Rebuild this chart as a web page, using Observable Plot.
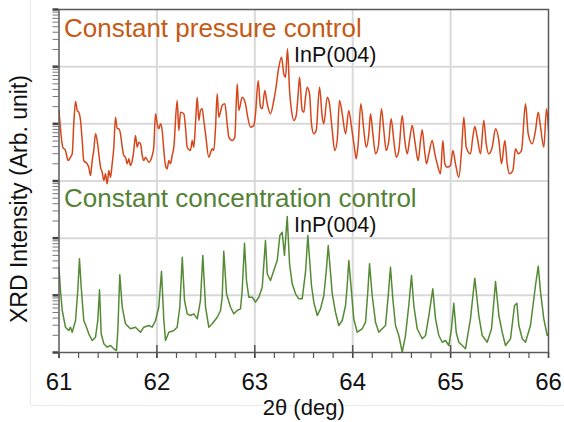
<!DOCTYPE html>
<html><head><meta charset="utf-8">
<script src="https://cdn.jsdelivr.net/npm/d3@7"></script>
<script src="https://cdn.jsdelivr.net/npm/@observablehq/plot@0.6"></script>
<style>
html,body{margin:0;padding:0;background:#fff;}
#chart{width:564px;height:422px;}
</style></head><body><div id="chart"></div>
<script>
// Series 1: constant pressure control (2θ in deg, log10 of intensity, arb. units)
const pressureTwoTheta = [61.000,61.039,61.066,61.094,61.117,61.135,61.151,61.169,61.186,61.202,61.220,61.237,61.253,61.288,61.304,61.322,61.339,61.355,61.373,61.390,61.407,61.424,61.441,61.458,61.475,61.492,61.509,61.526,61.543,61.560,61.577,61.595,61.611,61.628,61.646,61.662,61.679,61.697,61.713,61.730,61.748,61.764,61.781,61.799,61.815,61.833,61.850,61.866,61.884,61.917,61.952,61.968,61.986,62.003,62.019,62.037,62.054,62.071,62.088,62.105,62.122,62.139,62.156,62.173,62.207,62.224,62.241,62.275,62.292,62.310,62.343,62.361,62.377,62.394,62.412,62.428,62.445,62.463,62.479,62.497,62.530,62.565,62.581,62.599,62.616,62.632,62.667,62.694,62.718,62.735,62.769,62.796,62.820,62.837,62.871,62.905,62.922,62.956,62.990,63.007,63.035,63.058,63.076,63.102,63.127,63.160,63.194,63.212,63.245,63.273,63.296,63.314,63.334,63.355,63.375,63.398,63.423,63.443,63.457,63.484,63.501,63.518,63.535,63.559,63.579,63.603,63.627,63.661,63.689,63.705,63.740,63.763,63.791,63.817,63.842,63.865,63.893,63.927,63.960,63.988,64.022,64.036,64.056,64.083,64.114,64.138,64.165,64.182,64.206,64.233,64.261,64.294,64.318,64.342,64.369,64.393,64.420,64.445,64.471,64.506,64.532,64.557,64.580,64.608,64.634,64.659,64.669,64.693,64.710,64.734,64.754,64.778,64.812,64.839,64.863,64.897,64.921,64.941,64.965,64.999,65.023,65.050,65.084,65.112,65.135,65.160,65.203,65.227,65.247,65.272,65.306,65.339,65.364,65.390,65.425,65.459,65.493,65.520,65.554,65.578,65.602,65.636,65.663,65.691,65.724,65.765,65.793,65.834,65.867,65.895,65.919,65.952,65.980,66.000];
const pressureLogI = [4.233,3.591,3.533,3.358,3.416,3.476,4.000,4.390,4.233,4.203,4.058,3.708,3.358,3.301,3.241,3.096,3.358,3.533,3.825,3.708,3.476,3.241,3.154,3.009,3.126,2.951,3.184,3.066,3.301,3.591,4.116,3.913,3.913,3.825,3.591,3.446,3.416,3.301,3.388,3.271,3.358,3.533,3.796,3.591,3.679,3.651,3.446,3.358,3.416,3.329,3.446,3.591,4.175,4.000,3.913,4.000,3.883,3.533,3.271,3.213,3.358,3.301,3.446,3.591,4.408,3.883,4.203,4.175,3.941,3.591,3.533,3.708,3.591,4.000,4.466,4.058,4.233,4.263,4.058,3.825,3.416,3.563,3.533,3.941,4.525,4.116,4.321,4.350,4.000,3.766,3.708,3.766,4.700,4.233,4.466,4.350,4.175,3.941,3.971,4.175,4.758,4.291,4.263,4.583,4.350,4.175,4.408,4.583,4.990,5.165,4.875,4.816,5.312,4.583,4.233,4.058,4.146,4.525,4.816,4.233,4.203,4.466,4.641,4.525,4.000,3.825,3.883,4.641,4.116,4.000,4.466,4.350,3.883,3.533,3.708,4.408,4.175,3.825,4.233,3.941,3.533,3.388,3.651,4.350,3.883,3.591,3.825,4.175,3.825,3.476,3.591,4.263,3.883,3.533,3.708,4.088,3.708,3.416,3.533,4.146,3.708,3.476,3.708,3.971,3.708,3.416,3.358,3.708,3.895,3.533,3.301,3.476,3.708,3.476,3.301,3.126,3.708,3.301,3.241,3.271,3.533,3.301,3.066,3.533,4.116,3.591,3.476,3.766,3.953,3.766,3.476,4.058,3.651,3.476,3.591,3.913,3.708,3.301,3.708,3.301,3.126,3.184,3.563,3.476,3.533,4.350,3.825,3.651,3.883,4.203,3.941,3.591,4.263,3.883];

// Series 2: constant concentration control
const concTwoTheta = [61.000,61.015,61.033,61.066,61.100,61.117,61.135,61.169,61.192,61.209,61.227,61.253,61.281,61.304,61.339,61.373,61.396,61.414,61.431,61.458,61.492,61.526,61.560,61.587,61.601,61.621,61.646,61.679,61.730,61.781,61.833,61.866,61.917,61.952,61.986,62.019,62.047,62.071,62.088,62.122,62.173,62.207,62.234,62.259,62.282,62.310,62.343,62.377,62.412,62.445,62.469,62.497,62.530,62.565,62.616,62.650,62.667,62.683,62.711,62.752,62.786,62.820,62.854,62.871,62.895,62.915,62.939,62.974,63.007,63.041,63.076,63.109,63.127,63.160,63.194,63.229,63.256,63.280,63.303,63.331,63.355,63.382,63.416,63.450,63.484,63.518,63.542,63.559,63.579,63.603,63.638,63.671,63.705,63.729,63.750,63.773,63.791,63.824,63.858,63.893,63.927,63.944,63.960,63.988,64.011,64.046,64.097,64.131,64.154,64.172,64.199,64.233,64.267,64.301,64.335,64.363,64.386,64.410,64.437,64.471,64.506,64.539,64.573,64.601,64.624,64.659,64.710,64.744,64.778,64.818,64.846,64.880,64.914,64.948,64.982,65.009,65.033,65.057,65.084,65.119,65.152,65.203,65.247,65.288,65.323,65.374,65.418,65.459,65.493,65.527,65.561,65.612,65.653,65.677,65.697,65.732,65.765,65.816,65.867,65.895,65.919,65.952,65.987,66.000];
const concLogI = [1.492,1.085,0.735,0.443,0.385,0.443,0.355,0.560,1.085,1.639,1.142,0.560,0.443,0.327,0.210,0.268,0.560,1.097,0.327,0.152,0.093,0.122,0.065,0.035,0.385,1.359,0.792,0.502,0.415,0.443,0.355,0.443,0.472,0.443,0.560,0.792,1.422,0.560,0.210,0.355,0.385,0.443,0.792,1.667,0.910,0.677,0.647,0.677,0.589,0.910,1.697,0.792,0.443,0.502,0.617,0.735,0.967,1.772,1.027,0.792,0.677,0.735,0.764,1.085,1.912,1.259,0.967,0.967,0.880,0.967,1.142,1.959,1.377,1.259,1.434,1.609,2.047,2.104,1.697,2.379,1.552,1.202,1.027,0.939,0.939,1.405,2.047,1.639,1.172,0.880,0.647,0.764,0.997,1.405,1.872,1.405,1.027,0.705,0.472,0.560,0.822,1.172,1.609,1.055,0.589,0.355,0.415,0.530,1.055,1.552,0.997,0.530,0.355,0.415,0.472,0.997,1.492,0.939,0.472,0.297,0.005,0.297,0.822,1.347,0.822,0.415,0.240,0.297,0.647,1.114,0.589,0.297,0.180,0.210,0.122,0.415,0.862,0.355,0.180,0.122,0.065,0.589,1.300,0.647,0.297,0.180,0.415,1.242,0.647,0.355,0.122,0.240,0.822,0.862,0.472,0.240,0.180,0.472,1.172,1.510,1.055,0.589,0.297,0.327];

// Labels and ticks
const seriesLabels = ["Constant pressure control", "Constant concentration control"];
const peakLabel = "InP(004)";
const xTickValues = [61, 62, 63, 64, 65, 66];
const xInnerTicks = [62, 63, 64, 65];
const yDecades = [1, 10, 100, 1000, 10000, 100000, 1000000];
const xLabel = "2θ (deg)";
const yLabel = "XRD Intensity (Arb. unit)";

const xMinorTicks = d3.range(61, 66.0001, 0.2).map(v => +v.toFixed(1));
const yMinorTicks = yDecades.slice(0, -1).flatMap(d => [2,3,4,5,6,7,8,9].map(m => m * d));
const yGridLines = yDecades.slice(1, -1);

const pressureRows = pressureTwoTheta.map((x, i) => ({x, y: Math.pow(10, pressureLogI[i])}));
const concRows = concTwoTheta.map((x, i) => ({x, y: Math.pow(10, concLogI[i])}));

const font = "'Liberation Sans', Arial, Helvetica, sans-serif";
const chart = Plot.plot({
  width: 564, height: 422,
  marginLeft: 58.5, marginRight: 16, marginTop: 9, marginBottom: 70,
  x: {domain: [61, 66]},
  y: {type: "log", domain: [1, 1e6]},
  style: {fontFamily: font, background: "white", overflow: "visible"},
  marks: [
    Plot.gridX(xInnerTicks, {stroke: "#d9d9d9", strokeOpacity: 1, strokeWidth: 2}),
    Plot.gridY(yGridLines, {stroke: "#d9d9d9", strokeOpacity: 1, strokeWidth: 2}),
    Plot.line(pressureRows, {x: "x", y: "y", stroke: "#d6461a", strokeWidth: 1.5, curve: "monotone-x", clip: true}),
    Plot.line(concRows, {x: "x", y: "y", stroke: "#558a35", strokeWidth: 1.5, clip: true}),
    Plot.axisX(xMinorTicks, {tickSize: 6, stroke: "#555", strokeWidth: 1.2, tickFormat: () => "", label: null}),
    Plot.axisX(xTickValues, {tickSize: 6, tickPadding: 14, fontSize: 24, fill: "#111", stroke: "#444", strokeWidth: 1.5, label: null}),
    Plot.tickX(xInnerTicks, {x: d => d, insetTop: 336, stroke: "#555", strokeWidth: 1.5}),
    Plot.axisY(yMinorTicks, {tickSize: 6, stroke: "#777", strokeWidth: 1, tickFormat: () => "", label: null}),
    Plot.axisY(yDecades, {tickSize: 6, stroke: "#444", strokeWidth: 2.5, tickFormat: () => "", label: null}),
    Plot.frame({stroke: "#595959", strokeWidth: 1.5}),
    Plot.text([seriesLabels[0]], {frameAnchor: "top-left", textAnchor: "start", lineAnchor: "bottom", dx: 5, dy: 27, fontSize: 26, fill: "#c65a14"}),
    Plot.text([seriesLabels[1]], {frameAnchor: "top-left", textAnchor: "start", lineAnchor: "bottom", dx: 5, dy: 197, fontSize: 26, fill: "#548235"}),
    Plot.text([peakLabel], {frameAnchor: "top-left", textAnchor: "start", lineAnchor: "bottom", dx: 235, dy: 52, fontSize: 21.5, fill: "#111"}),
    Plot.text([peakLabel], {frameAnchor: "top-left", textAnchor: "start", lineAnchor: "bottom", dx: 235, dy: 222.5, fontSize: 21.5, fill: "#111"}),
    Plot.text([xLabel], {frameAnchor: "bottom", textAnchor: "middle", lineAnchor: "bottom", dy: 62, fontSize: 22, fill: "#111"}),
    Plot.text([yLabel], {frameAnchor: "left", rotate: -90, textAnchor: "middle", lineAnchor: "bottom", dx: -31.8, dy: 18, fontSize: 23, fill: "#111"})
  ]
});
d3.select(chart).insert("path", ":first-child")
  .attr("d", "M30.5,0V405.5H564").attr("fill", "none").attr("stroke", "#ececec").attr("stroke-width", 1);
document.getElementById("chart").appendChild(chart);
</script>
</body></html>
